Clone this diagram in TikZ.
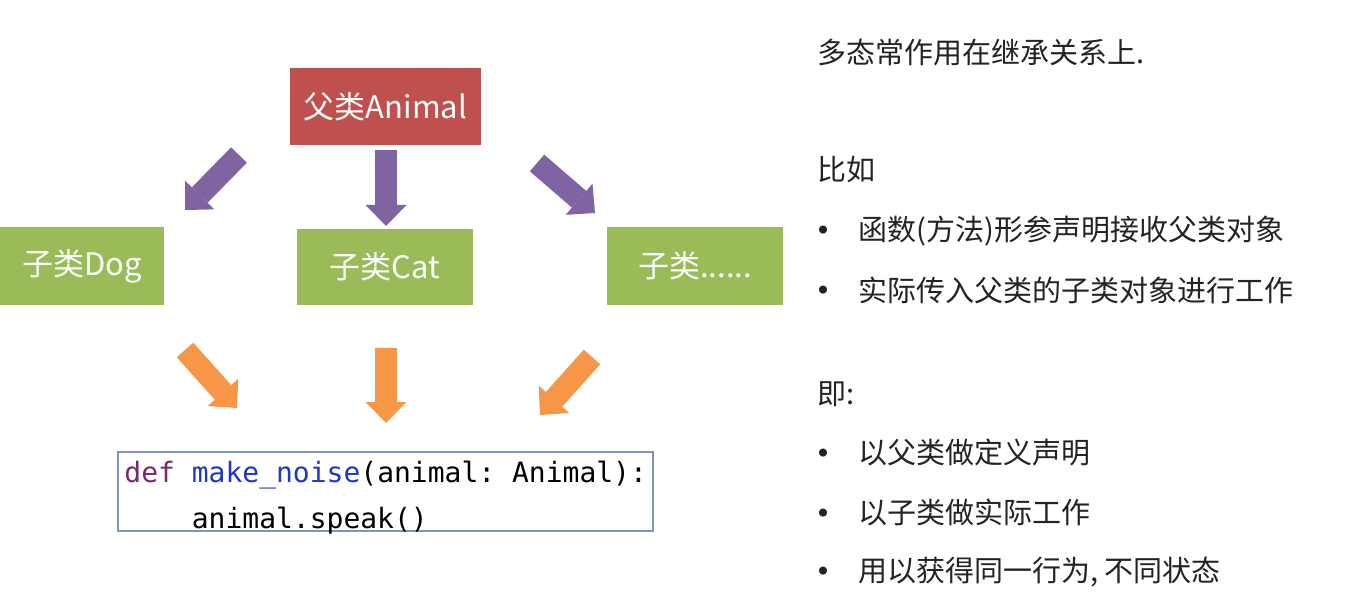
\documentclass[tikz,border=0pt]{standalone}
\usepackage{fontspec}
\setmainfont{Noto Sans CJK SC}
\setmonofont{DejaVu Sans Mono}
\usetikzlibrary{arrows.meta}

\definecolor{parentred}{RGB}{192,80,77}
\definecolor{childgreen}{RGB}{155,187,89}
\definecolor{inheritpurple}{RGB}{128,100,162}
\definecolor{callorange}{RGB}{247,150,70}
\definecolor{codeframe}{RGB}{125,150,190}
\definecolor{kwpurple}{RGB}{120,40,115}
\definecolor{fnblue}{RGB}{30,55,200}
\definecolor{notetext}{RGB}{35,35,35}

\begin{document}
\begin{tikzpicture}[x=0.5pt, y=-0.5pt,
    classbox/.style={fill=#1, text=white, inner sep=0pt,
        font=\fontsize{15.5}{18}\selectfont},
    blockarrow/.style={#1, line width=11pt,
        -{Triangle[length=10.5pt, width=20.5pt, line width=0pt]}},
    note/.style={anchor=base west, inner sep=0pt, text=notetext,
        font=\fontsize{14.5}{17}\selectfont},
    dot/.style={note, font=\fontsize{19}{21}\selectfont}]
    \useasboundingbox (0,0) rectangle (1354,593);

    % Class boxes
    \node[classbox=parentred, minimum width=95.5pt, minimum height=38.5pt]
        (animal) at (385.5,106.5) {父类Animal};
    \node[classbox=childgreen, minimum width=82pt, minimum height=39pt]
        (dog) at (82,266) {子类Dog};
    \node[classbox=childgreen, minimum width=88pt, minimum height=38pt]
        (cat) at (385,267) {子类Cat};
    \node[classbox=childgreen, minimum width=88pt, minimum height=39pt]
        (other) at (695,266) {子类......};

    % Code box
    \node[draw=codeframe, line width=0.8pt, fill=white,
        minimum width=267.5pt, minimum height=39.5pt]
        (code) at (385.5,491.5) {};
    \node[anchor=north west, inner sep=0pt, align=left,
        font=\ttfamily\fontsize{14}{23}\selectfont]
        (codetext) at (124,461)
        {{\color{kwpurple}def} {\color{fnblue}make\symbol{95}noise}(animal: Animal):\\
         \phantom{xxxx}animal.speak()};

    % Inheritance arrows (parent to children)
    \coordinate (p1s) at (239,155);  \coordinate (p1e) at (185,210);
    \coordinate (p2s) at (386,150);  \coordinate (p2e) at (386,226);
    \coordinate (p3s) at (537,163);  \coordinate (p3e) at (595,213);
    \draw[blockarrow=inheritpurple] (p1s) -- (p1e);
    \draw[blockarrow=inheritpurple] (p2s) -- (p2e);
    \draw[blockarrow=inheritpurple] (p3s) -- (p3e);

    % Arrows into the function
    \coordinate (o1s) at (185,350);  \coordinate (o1e) at (237,408);
    \coordinate (o2s) at (386,348);  \coordinate (o2e) at (386,423);
    \coordinate (o3s) at (592,357);  \coordinate (o3e) at (540,415);
    \draw[blockarrow=callorange] (o1s) -- (o1e);
    \draw[blockarrow=callorange] (o2s) -- (o2e);
    \draw[blockarrow=callorange] (o3s) -- (o3e);

    % Notes on the right
    \node[note] (intro) at (817,64) {多态常作用在继承关系上.};
    \node[note] (eg) at (817,181) {比如};
    \node[dot] (b1) at (804,245) {•};
    \node[note] (t1) at (858,241) {函数(方法)形参声明接收父类对象};
    \node[dot] (b2) at (804,305) {•};
    \node[note] (t2) at (858,301) {实际传入父类的子类对象进行工作};
    \node[note] (ie) at (817,404) {即:};
    \node[dot] (b3) at (804,467) {•};
    \node[note] (t3) at (858,463) {以父类做定义声明};
    \node[dot] (b4) at (804,527) {•};
    \node[note] (t4) at (858,523) {以子类做实际工作};
    \node[dot] (b5) at (804,585) {•};
    \node[note] (t5) at (858,581) {用以获得同一行为, 不同状态};
\end{tikzpicture}
\end{document}
